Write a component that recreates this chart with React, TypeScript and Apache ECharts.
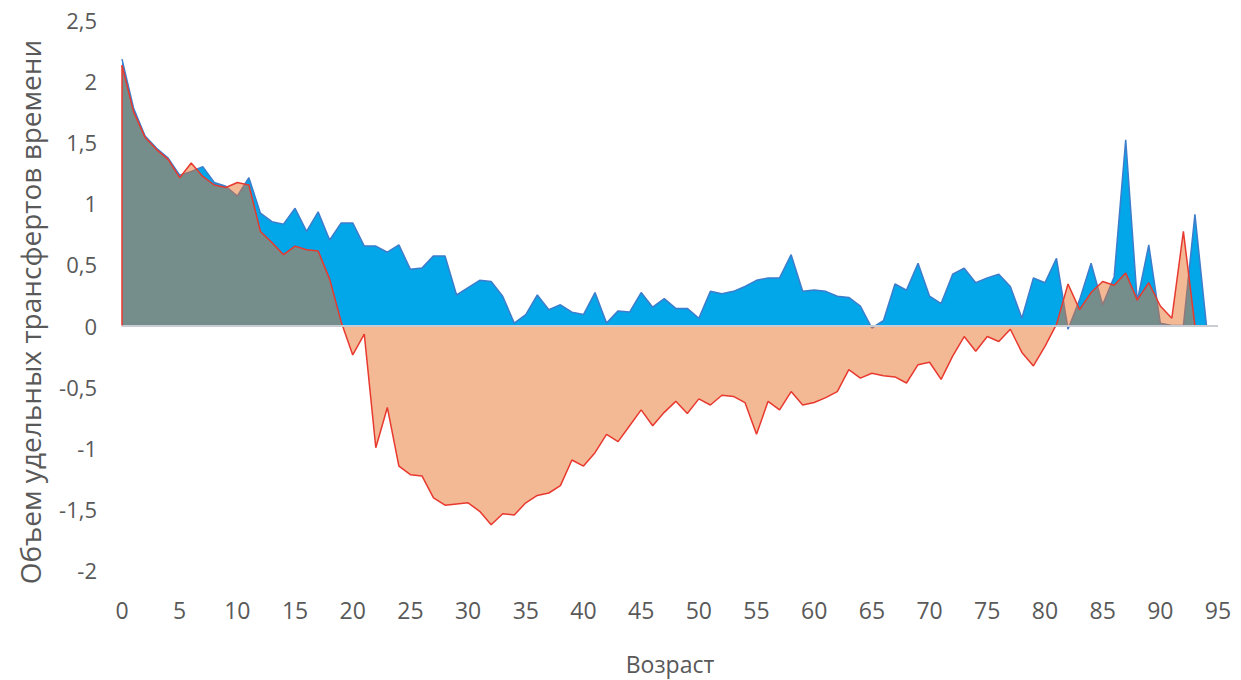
import React, { useEffect, useRef } from "react";
import * as echarts from "echarts";

const ages: string[] = Array.from({ length: 96 }, (_, i) => String(i));

const blueValues: number[] = [
  2.18, 1.78, 1.55, 1.45, 1.37, 1.23, 1.26, 1.3, 1.17, 1.14,
  1.06, 1.21, 0.92, 0.85, 0.83, 0.96, 0.77, 0.93, 0.7, 0.84,
  0.84, 0.65, 0.65, 0.6, 0.66, 0.46, 0.47, 0.57, 0.57, 0.25,
  0.31, 0.37, 0.36, 0.24, 0.02, 0.09, 0.25, 0.13, 0.17, 0.11,
  0.09, 0.27, 0.02, 0.12, 0.11, 0.27, 0.15, 0.22, 0.14, 0.14,
  0.06, 0.28, 0.26, 0.28, 0.32, 0.37, 0.39, 0.39, 0.58, 0.28,
  0.29, 0.28, 0.24, 0.23, 0.16, -0.02, 0.04, 0.34, 0.29, 0.51,
  0.24, 0.18, 0.42, 0.47, 0.35, 0.39, 0.42, 0.32, 0.06, 0.39,
  0.35, 0.55, -0.03, 0.21, 0.51, 0.17, 0.4, 1.52, 0.2, 0.66,
  0.02, 0.0, 0.0, 0.91, 0.0,
];

const orangeValues: (number | null)[] = [
  2.13, 1.75, 1.54, 1.44, 1.36, 1.21, 1.33, 1.22, 1.15, 1.13,
  1.17, 1.15, 0.77, 0.68, 0.58, 0.65, 0.62, 0.61, 0.38, 0.03,
  -0.24, -0.07, -1.0, -0.67, -1.15, -1.22, -1.23, -1.41, -1.47, -1.46,
  -1.45, -1.52, -1.63, -1.54, -1.55, -1.45, -1.39, -1.37, -1.31, -1.1,
  -1.15, -1.04, -0.89, -0.95, -0.82, -0.69, -0.82, -0.71, -0.62, -0.72,
  -0.6, -0.65, -0.57, -0.58, -0.63, -0.89, -0.62, -0.69, -0.54, -0.65,
  -0.63, -0.59, -0.54, -0.36, -0.43, -0.39, -0.41, -0.42, -0.47, -0.32,
  -0.3, -0.44, -0.25, -0.09, -0.21, -0.09, -0.13, -0.03, -0.22, -0.33,
  -0.17, 0.01, 0.34, 0.13, 0.27, 0.36, 0.33, 0.43, 0.21, 0.35,
  0.16, 0.06, 0.77, 0.0, null,
];

const yTitle = "Объем удельных трансфертов времени";
const xTitle = "Возраст";

export default function App() {
  const ref = useRef<HTMLDivElement>(null);
  useEffect(() => {
    if (!ref.current) return;
    const chart = echarts.init(ref.current, null, { renderer: "svg" });
    const textColor = "#595959";
    chart.setOption({
      animation: false,
      backgroundColor: "#ffffff",
      grid: { left: 122, right: 23, top: 20, bottom: 100, containLabel: false },
      xAxis: {
        type: "category",
        data: ages,
        boundaryGap: false,
        axisLine: { show: false, onZero: false },
        axisTick: { show: false },
        splitLine: { show: false },
        axisLabel: {
          interval: 4,
          color: textColor,
          fontSize: 23,
          fontFamily: "'Open Sans', sans-serif",
          margin: 28,
        },
        name: xTitle,
        nameLocation: "middle",
        nameGap: 82,
        nameTextStyle: {
          color: textColor,
          fontSize: 23,
          fontFamily: "'Open Sans', sans-serif",
        },
      },
      yAxis: {
        type: "value",
        min: -2,
        max: 2.5,
        interval: 0.5,
        axisLine: { show: false },
        axisTick: { show: false },
        splitLine: { show: false },
        axisLabel: {
          color: textColor,
          fontSize: 22,
          fontFamily: "'Open Sans', sans-serif",
          margin: 25,
          formatter: (v: number) => String(v).replace(".", ","),
        },
      },
      graphic: [
        {
          type: "text",
          x: 30,
          y: 312,
          rotation: Math.PI / 2,
          style: {
            text: yTitle,
            fill: textColor,
            fontSize: 28,
            fontFamily: "'Open Sans', sans-serif",
            align: "center",
            verticalAlign: "middle",
          },
        },
      ],
      series: [
        {
          type: "line",
          data: blueValues,
          symbol: "none",
          z: 2,
          lineStyle: { color: "#3D7DCB", width: 1.5 },
          areaStyle: { color: "#02A7EA", opacity: 1 },
        },
        {
          type: "line",
          data: orangeValues,
          symbol: "none",
          z: 3,
          lineStyle: { color: "#E8392F", width: 1.5 },
          areaStyle: { color: "#E8742C", opacity: 0.5 },
          markLine: {
            silent: true,
            symbol: "none",
            label: { show: false },
            data: [
              { yAxis: 0, lineStyle: { color: "#C9CDD3", width: 2, type: "solid" } },
              [
                { coord: ["0", 0], lineStyle: { color: "#E8392F", width: 1.5, type: "solid" } },
                { coord: ["0", orangeValues[0]] },
              ],
            ],
          },
        },
      ],
    });
    return () => chart.dispose();
  }, []);
  return (
    <div
      ref={ref}
      style={{ position: "fixed", left: 0, top: 0, width: 1241, height: 680 }}
    />
  );
}
